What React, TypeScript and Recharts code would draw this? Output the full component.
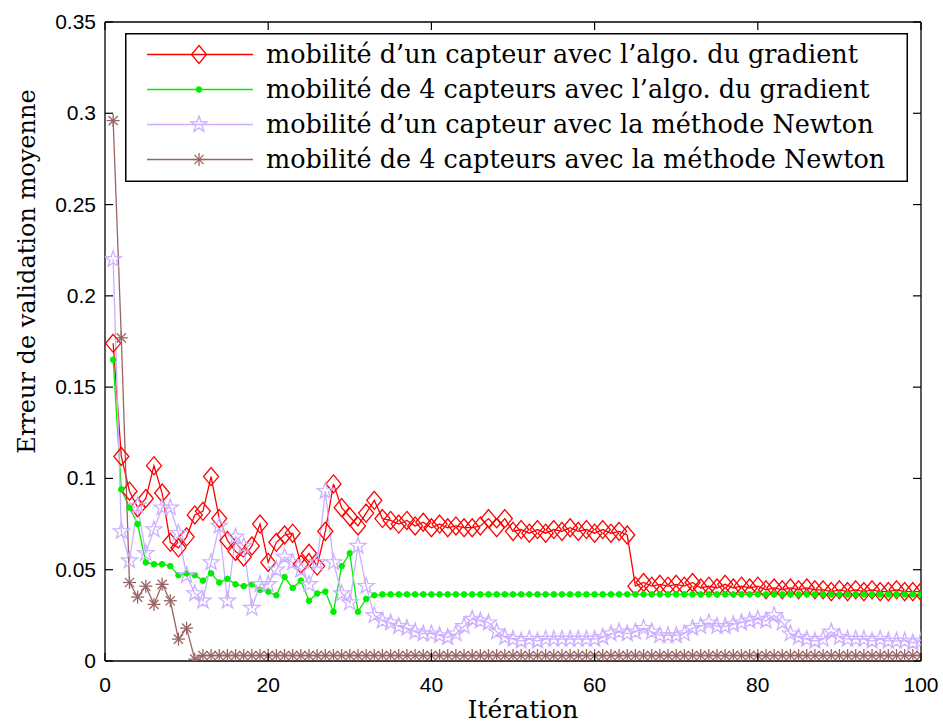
import React from "react";
import { LineChart, Line, XAxis, YAxis, Legend } from "recharts";

// x = iteration number
const iterations = Array.from({ length: 100 }, (_, i) => i + 1);

const gradientOne = [
  0.174, 0.112, 0.093, 0.084, 0.089, 0.107, 0.092, 0.065, 0.062, 0.068,
  0.080, 0.082, 0.101, 0.078, 0.066, 0.060, 0.057, 0.063, 0.075, 0.054,
  0.065, 0.069, 0.070, 0.053, 0.059, 0.052, 0.071, 0.097, 0.084, 0.079,
  0.074, 0.081, 0.088, 0.078, 0.077, 0.075, 0.077, 0.074, 0.076, 0.073,
  0.075, 0.073, 0.074, 0.073, 0.073, 0.074, 0.078, 0.073, 0.078, 0.071,
  0.072, 0.070, 0.072, 0.070, 0.072, 0.071, 0.073, 0.071, 0.072, 0.070,
  0.072, 0.070, 0.071, 0.069, 0.041, 0.043, 0.041, 0.042, 0.041, 0.042,
  0.041, 0.043, 0.040, 0.041, 0.040, 0.042, 0.040, 0.041, 0.040, 0.041,
  0.039, 0.040, 0.039, 0.040, 0.039, 0.040, 0.039, 0.039, 0.038, 0.039,
  0.038, 0.039, 0.038, 0.039, 0.038, 0.038, 0.039, 0.038, 0.038, 0.038,
];

const gradientFour = [
  0.165, 0.094, 0.084, 0.075, 0.054, 0.053, 0.053, 0.052, 0.047, 0.048,
  0.047, 0.044, 0.048, 0.043, 0.045, 0.042, 0.041, 0.042, 0.039, 0.038,
  0.036, 0.046, 0.040, 0.044, 0.033, 0.037, 0.038, 0.027, 0.052, 0.059,
  0.027, 0.034, 0.036, 0.0365, 0.0365, 0.0365, 0.0365, 0.0365, 0.0365, 0.0365,
  0.0365, 0.0365, 0.0365, 0.0365, 0.0365, 0.0365, 0.0365, 0.0365, 0.0365, 0.0365,
  0.0365, 0.0365, 0.0365, 0.0365, 0.0365, 0.0365, 0.0365, 0.0365, 0.0365, 0.0365,
  0.0365, 0.0365, 0.0365, 0.0365, 0.0365, 0.0365, 0.0365, 0.0365, 0.0365, 0.0365,
  0.0365, 0.0365, 0.0365, 0.0365, 0.0365, 0.0365, 0.0365, 0.0365, 0.0365, 0.0365,
  0.0365, 0.0365, 0.0365, 0.0365, 0.0365, 0.0365, 0.0365, 0.0365, 0.0365, 0.0365,
  0.0365, 0.0365, 0.0365, 0.0365, 0.0365, 0.0365, 0.0365, 0.0365, 0.0365, 0.0365,
];

const newtonOne = [
  0.220, 0.071, 0.055, 0.085, 0.059, 0.072, 0.084, 0.084, 0.070, 0.047,
  0.037, 0.033, 0.054, 0.074, 0.033, 0.068, 0.063, 0.029, 0.042, 0.042,
  0.050, 0.057, 0.054, 0.050, 0.042, 0.054, 0.093, 0.054, 0.037, 0.032,
  0.063, 0.041, 0.025, 0.022, 0.021, 0.019, 0.018, 0.016, 0.015, 0.015,
  0.014, 0.013, 0.015, 0.019, 0.023, 0.022, 0.021, 0.016, 0.013, 0.012,
  0.011, 0.012, 0.011, 0.012, 0.012, 0.012, 0.012, 0.012, 0.012, 0.012,
  0.013, 0.015, 0.016, 0.015, 0.016, 0.018, 0.016, 0.014, 0.014, 0.014,
  0.015, 0.018, 0.019, 0.021, 0.019, 0.019, 0.020, 0.021, 0.022, 0.023,
  0.022, 0.025, 0.021, 0.015, 0.013, 0.012, 0.011, 0.012, 0.016, 0.013,
  0.012, 0.012, 0.012, 0.011, 0.012, 0.011, 0.011, 0.011, 0.010, 0.011,
];

const newtonFour = [
  0.296, 0.177, 0.043, 0.035, 0.041, 0.031, 0.042, 0.033, 0.012, 0.018,
  0.001, 0.003, 0.003, 0.003, 0.003, 0.003, 0.003, 0.003, 0.003, 0.003,
  0.003, 0.003, 0.003, 0.003, 0.003, 0.003, 0.003, 0.003, 0.003, 0.003,
  0.003, 0.003, 0.003, 0.003, 0.003, 0.003, 0.003, 0.003, 0.003, 0.003,
  0.003, 0.003, 0.003, 0.003, 0.003, 0.003, 0.003, 0.003, 0.003, 0.003,
  0.003, 0.003, 0.003, 0.003, 0.003, 0.003, 0.003, 0.003, 0.003, 0.003,
  0.003, 0.003, 0.003, 0.003, 0.003, 0.003, 0.003, 0.003, 0.003, 0.003,
  0.003, 0.003, 0.003, 0.003, 0.003, 0.003, 0.003, 0.003, 0.003, 0.003,
  0.003, 0.003, 0.003, 0.003, 0.003, 0.003, 0.003, 0.003, 0.003, 0.003,
  0.003, 0.003, 0.003, 0.003, 0.003, 0.003, 0.003, 0.003, 0.003, 0.003,
];

const xTicks = [0, 20, 40, 60, 80, 100];
const yTicks = [0, 0.05, 0.1, 0.15, 0.2, 0.25, 0.3, 0.35];
const yTickLabels = ["0", "0.05", "0.1", "0.15", "0.2", "0.25", "0.3", "0.35"];

const series = [
  { key: "g1", name: "mobilité d\u2019un capteur avec l\u2019algo. du gradient", color: "#ff0000", marker: "diamond" },
  { key: "g4", name: "mobilité de 4 capteurs avec l\u2019algo. du gradient", color: "#00ee00", marker: "dot" },
  { key: "n1", name: "mobilité d\u2019un capteur avec la méthode Newton", color: "#ccb0ff", marker: "star" },
  { key: "n4", name: "mobilité de 4 capteurs avec la méthode Newton", color: "#9a6464", marker: "asterisk" },
];

const data = iterations.map((it, i) => ({
  it,
  g1: gradientOne[i],
  g4: gradientFour[i],
  n1: newtonOne[i],
  n4: newtonFour[i],
}));

const serif = "DejaVu Serif";
const sans = "Liberation Sans";

function Marker({ type, cx, cy, color }: { type: string; cx: number; cy: number; color: string }) {
  if (type === "diamond") {
    const pts = `${cx},${cy - 9} ${cx + 7.5},${cy} ${cx},${cy + 9} ${cx - 7.5},${cy}`;
    return <polygon points={pts} fill="none" stroke={color} strokeWidth={1.3} />;
  }
  if (type === "dot") {
    return <circle cx={cx} cy={cy} r={2.8} fill={color} stroke={color} />;
  }
  if (type === "star") {
    const pts: string[] = [];
    for (let k = 0; k < 10; k++) {
      const r = k % 2 === 0 ? 8.5 : 3.4;
      const a = -Math.PI / 2 + (k * Math.PI) / 5;
      pts.push(`${cx + r * Math.cos(a)},${cy + r * Math.sin(a)}`);
    }
    return <polygon points={pts.join(" ")} fill="none" stroke={color} strokeWidth={1.3} />;
  }
  const d = 6.5;
  const e = 4.6;
  return (
    <g stroke={color} strokeWidth={1.3}>
      <line x1={cx - d} y1={cy} x2={cx + d} y2={cy} />
      <line x1={cx} y1={cy - d} x2={cx} y2={cy + d} />
      <line x1={cx - e} y1={cy - e} x2={cx + e} y2={cy + e} />
      <line x1={cx - e} y1={cy + e} x2={cx + e} y2={cy - e} />
    </g>
  );
}

const makeDot = (type: string, color: string) => (props: any) => {
  const { cx, cy, index } = props;
  return (
    <g key={`${type}-${index}`}>
      <Marker type={type} cx={cx} cy={cy} color={color} />
    </g>
  );
};

const LeftTick = (props: any) => {
  const { x, y, index } = props;
  return (
    <g>
      <line x1={x} y1={y} x2={x + 8} y2={y} stroke="#000" strokeWidth={1.2} />
      <text x={x - 9} y={y} dy={7} textAnchor="end" fontFamily={sans} fontSize={21} fill="#000">
        {yTickLabels[index]}
      </text>
    </g>
  );
};

const RightTick = (props: any) => {
  const { x, y } = props;
  return <line x1={x} y1={y} x2={x - 8} y2={y} stroke="#000" strokeWidth={1.2} />;
};

const BottomTick = (props: any) => {
  const { x, y, payload } = props;
  return (
    <g>
      <line x1={x} y1={y} x2={x} y2={y - 8} stroke="#000" strokeWidth={1.2} />
      <text x={x} y={y} dy={31} textAnchor="middle" fontFamily={sans} fontSize={21} fill="#000">
        {payload.value}
      </text>
    </g>
  );
};

const TopTick = (props: any) => {
  const { x, y } = props;
  return <line x1={x} y1={y} x2={x} y2={y + 8} stroke="#000" strokeWidth={1.2} />;
};

const LegendBox = () => (
  <svg width={783} height={149} style={{ display: "block" }}>
    <rect x={0.75} y={0.75} width={781.5} height={147.5} fill="#fff" stroke="#000" strokeWidth={1.5} />
    {series.map((s, i) => {
      const cy = 21.5 + i * 35;
      return (
        <g key={s.key}>
          <line x1={22} y1={cy} x2={128} y2={cy} stroke={s.color} strokeWidth={1.3} />
          <Marker type={s.marker} cx={74} cy={cy} color={s.color} />
          <text x={141} y={cy} dy={8} fontFamily={serif} fontSize={25.5} fill="#000">
            {s.name}
          </text>
        </g>
      );
    })}
  </svg>
);

export default function App() {
  return (
    <div style={{ position: "absolute", left: 0, top: 0, background: "#fff" }}>
      <LineChart width={943} height={724} data={data} margin={{ top: 0, right: 0, bottom: 0, left: 0 }}>
        <XAxis
          dataKey="it"
          type="number"
          domain={[0, 100]}
          ticks={xTicks}
          allowDataOverflow
          height={63}
          tickSize={0}
          tickMargin={0}
          tickLine={false}
          axisLine={{ stroke: "#000", strokeWidth: 1.3 }}
          tick={BottomTick}
          label={{
            content: (p: any) => (
              <text
                x={p.viewBox.x + p.viewBox.width / 2 + 10}
                y={p.viewBox.y + 57}
                textAnchor="middle"
                fontFamily={serif}
                fontSize={25}
                fill="#000"
              >
                Itération
              </text>
            ),
          }}
        />
        <XAxis
          xAxisId="top"
          dataKey="it"
          type="number"
          orientation="top"
          domain={[0, 100]}
          ticks={xTicks}
          allowDataOverflow
          height={22}
          tickSize={0}
          tickMargin={0}
          tickLine={false}
          axisLine={{ stroke: "#000", strokeWidth: 1.3 }}
          tick={TopTick}
        />
        <YAxis
          type="number"
          domain={[0, 0.35]}
          ticks={yTicks}
          allowDataOverflow
          width={105}
          tickSize={0}
          tickMargin={0}
          tickLine={false}
          axisLine={{ stroke: "#000", strokeWidth: 1.3 }}
          tick={LeftTick}
          label={{
            content: (p: any) => {
              const cx = 27;
              const cy = p.viewBox.y + p.viewBox.height / 2 - 70;
              return (
                <text
                  x={cx}
                  y={cy}
                  transform={`rotate(-90, ${cx}, ${cy})`}
                  textAnchor="middle"
                  dominantBaseline="central"
                  fontFamily={serif}
                  fontSize={24}
                  fill="#000"
                >
                  Erreur de validation moyenne
                </text>
              );
            },
          }}
        />
        <YAxis
          yAxisId="right"
          orientation="right"
          type="number"
          domain={[0, 0.35]}
          ticks={yTicks}
          allowDataOverflow
          width={22}
          tickSize={0}
          tickMargin={0}
          tickLine={false}
          axisLine={{ stroke: "#000", strokeWidth: 1.3 }}
          tick={RightTick}
        />
        {series.map((s) => (
          <Line
            key={s.key}
            dataKey={s.key}
            name={s.name}
            type="linear"
            stroke={s.color}
            strokeWidth={1.3}
            dot={makeDot(s.marker, s.color)}
            activeDot={false}
            isAnimationActive={false}
          />
        ))}
        <Legend
          layout="horizontal"
          verticalAlign="middle"
          align="center"
          content={LegendBox}
          wrapperStyle={{ left: 125, top: 33, width: 783, height: 149 }}
        />
      </LineChart>
    </div>
  );
}
